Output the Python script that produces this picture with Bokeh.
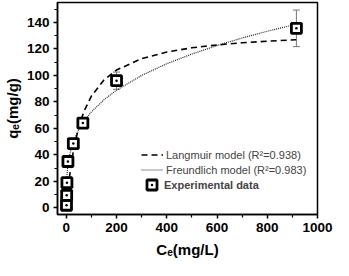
from bokeh.plotting import figure
from bokeh.models import (Range1d, FixedTicker, Legend, LegendItem,
                          ColumnDataSource, Whisker, TeeHead)
from bokeh.embed import file_html
from bokeh.resources import INLINE

# ---- data ----
ce_exp = [0.8, 1.5, 2.5, 6.5, 28, 66, 200, 916]
qe_exp = [2, 9.5, 19, 35, 48.5, 64, 96, 135.5]
qe_err = [0, 0, 0, 0, 0, 0, 6.5, 13.8]

ce_lang = [0, 5, 10, 20, 30, 50, 70, 100, 150, 200, 300, 400, 500, 600, 700, 800, 915]
qe_lang = [0, 10.4, 19.3, 33.7, 45.0, 61.4, 72.7, 84.4, 96.5, 104.0, 112.7, 117.6,
           120.8, 123.0, 124.6, 125.8, 126.9]

ce_freu = [1, 2, 5, 10, 20, 30, 50, 70, 100, 150, 200, 300, 400, 500, 600, 700, 800, 915]
qe_freu = [18.8, 23.0, 30.1, 36.9, 45.2, 50.9, 59.1, 65.3, 72.5, 81.6, 88.8, 100.0,
           108.8, 116.1, 122.5, 128.2, 133.3, 138.6]

x_major = [0, 200, 400, 600, 800, 1000]
x_minor = [100, 300, 500, 700, 900]
y_major = [0, 20, 40, 60, 80, 100, 120, 140]
y_minor = [10, 30, 50, 70, 90, 110, 130, 150]

x_title = "C\u2091(mg/L)"
y_title = "q\u2091(mg/g)"
lang_label = "Langmuir model (R\u00b2=0.938)"
freu_label = "Freundlich model (R\u00b2=0.983)"
exp_label = "Experimental data"

FONT = "Liberation Sans"

p = figure(width=333, height=260, x_range=Range1d(-35, 1000), y_range=Range1d(-5, 155),
           output_backend="svg", toolbar_location=None,
           min_border_left=44, min_border_right=16, min_border_top=2, min_border_bottom=40)
p.xgrid.visible = False
p.ygrid.visible = False
p.outline_line_color = "black"
p.outline_line_width = 1.5
p.background_fill_color = "white"
p.border_fill_color = "white"

p.xaxis.ticker = FixedTicker(ticks=x_major, minor_ticks=x_minor)
p.yaxis.ticker = FixedTicker(ticks=y_major, minor_ticks=y_minor)
p.xaxis.axis_label = x_title
p.yaxis.axis_label = y_title
for ax in (p.xaxis, p.yaxis):
    ax.axis_line_width = 1.5
    ax.major_tick_line_width = 1.5
    ax.minor_tick_line_width = 1.2
    ax.major_tick_out = 4
    ax.major_tick_in = 0
    ax.minor_tick_out = 3
    ax.minor_tick_in = 0
    ax.major_label_text_font = FONT
    ax.major_label_text_font_style = "bold"
    ax.major_label_text_font_size = "13.5px"
    ax.major_label_text_color = "black"
    ax.major_label_standoff = 4
    ax.axis_label_text_font = FONT
    ax.axis_label_text_font_style = "bold"
    ax.axis_label_text_font_size = "15px"
    ax.axis_label_text_color = "black"
p.xaxis.axis_label_standoff = 6
p.yaxis.axis_label_standoff = 3

# error bars
src = ColumnDataSource(dict(C=ce_exp, q=qe_exp,
                            upper=[q + e for q, e in zip(qe_exp, qe_err)],
                            lower=[q - e for q, e in zip(qe_exp, qe_err)]))
wh = Whisker(base="C", upper="upper", lower="lower", source=src,
             line_color="#777777", line_width=1,
             upper_head=TeeHead(size=7, line_color="#777777", line_width=1),
             lower_head=TeeHead(size=7, line_color="#777777", line_width=1),
             level="underlay")
p.add_layout(wh)

r_lang = p.line(ce_lang, qe_lang, line_color="black", line_width=1.6, line_dash="6 4")
r_freu = p.line(ce_freu, qe_freu, line_color="#222222", line_width=1.2, line_dash="1 1")
r_sq = p.scatter("C", "q", source=src, marker="square_dot", size=10, line_width=2.8,
                 line_color="black", fill_color="white")

leg1 = Legend(items=[LegendItem(label=lang_label, renderers=[r_lang]),
                     LegendItem(label=freu_label, renderers=[r_freu])],
              location=(84, 38), padding=0, margin=0, spacing=2,
              glyph_width=22, glyph_height=13, label_height=13, label_standoff=3,
              border_line_color=None, background_fill_alpha=0,
              label_text_font=FONT, label_text_font_size="11px")
leg2 = Legend(items=[LegendItem(label=exp_label, renderers=[r_sq])],
              location=(82, 17), padding=0, margin=0, spacing=0,
              glyph_width=25, glyph_height=25, label_height=25, label_standoff=0,
              border_line_color=None, background_fill_alpha=0,
              label_text_font=FONT, label_text_font_size="11px",
              label_text_font_style="bold")
p.add_layout(leg1, "center")
p.add_layout(leg2, "center")

open("out.html", "w").write(file_html(p, INLINE))
